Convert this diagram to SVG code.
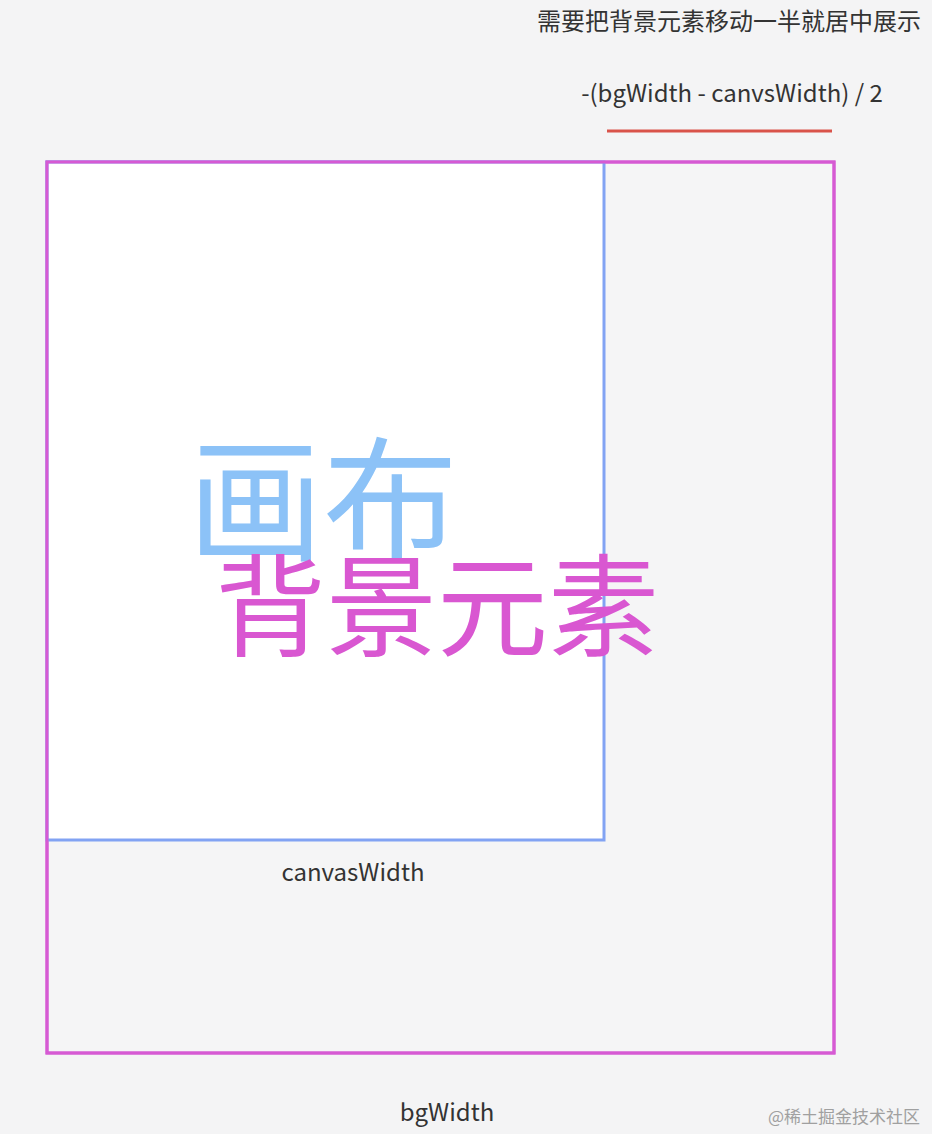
<svg xmlns="http://www.w3.org/2000/svg" width="932" height="1134" viewBox="0 0 932 1134">
<style>
.lbl{font-family:"Noto Sans CJK SC","Noto Sans",sans-serif;fill:#333333}
.cjk{font-family:"Noto Sans CJK SC",sans-serif}
</style>
<rect x="0" y="0" width="932" height="1134" fill="#f4f4f5"/>
<g id="bg-element">
<rect x="47" y="162" width="787" height="891" fill="#f5f5f6" stroke="#d65ad3" stroke-width="3"/>
</g>
<g id="canvas">
<rect x="47" y="162" width="557" height="678" fill="#ffffff" stroke="#82a3f3" stroke-width="3"/>
<text class="cjk" x="188" y="551" font-size="135" fill="#8cc2f7">画布</text>
</g>
<g id="bg-outline">
<path d="M47 162 H834 V1053 H47 Z" fill="none" stroke="#d65ad3" stroke-width="3"/>
<text class="cjk" x="215" y="648" font-size="111" fill="#d957d1">背景元素</text>
</g>
<g id="connectors">
<line x1="607" y1="131" x2="832" y2="131" stroke="#d9534a" stroke-width="3"/>
</g>
<g id="labels">
<text class="lbl" x="921" y="30" font-size="24" text-anchor="end">需要把背景元素移动一半就居中展示</text>
<text class="lbl" x="732" y="102" font-size="24" text-anchor="middle">-(bgWidth - canvsWidth) / 2</text>
<text class="lbl" x="353" y="881" font-size="24" text-anchor="middle">canvasWidth</text>
<text class="lbl" x="447" y="1121" font-size="24" text-anchor="middle">bgWidth</text>
<text x="844" y="1123" font-size="17" text-anchor="middle" font-family="'Noto Sans CJK SC',sans-serif" fill="#a0a0a0">@稀土掘金技术社区</text>
</g>
</svg>
